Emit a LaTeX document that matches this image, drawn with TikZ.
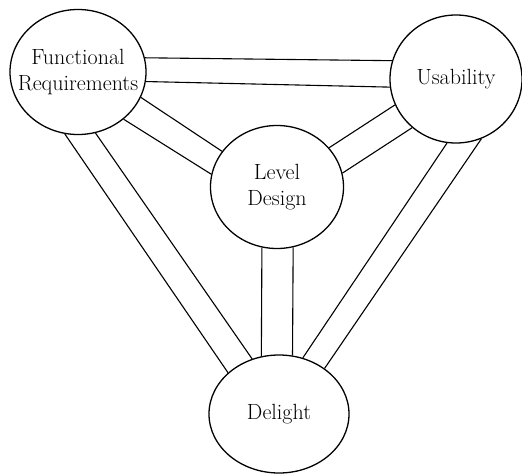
\documentclass[tikz,border=0pt]{standalone}
\usepackage{fontspec}
\usepackage{tikz}
\usetikzlibrary{shapes.geometric}

\begin{document}
\begin{tikzpicture}[x=1pt,y=-1pt]
		\tikzstyle{aspect}=[draw,shape=ellipse,line width=1.3pt,inner sep=-40pt,align=center,font=\fontsize{22}{26}\selectfont]
		\tikzstyle{link}=[line width=1.1pt]
		
		\useasboundingbox (0,0) rectangle (522,474);
		
		\node[aspect,minimum width=136pt,minimum height=125pt](fr) at (78,72){Functional\\Requirements};
		\node[aspect,minimum width=132pt,minimum height=128pt](us) at (456,79){Usability};
		\node[aspect,minimum width=133pt,minimum height=123pt](ld) at (277,187){Level\\Design};
		\node[aspect,minimum width=140pt,minimum height=118pt](dl) at (279,414){Delight};
		
		\draw[link] (fr.12) -- (us.164);
		\draw[link] (fr.-8) -- (us.-173);
		
		\draw[link] (fr.-22) -- (ld.147);
		\draw[link] (fr.-46) -- (ld.169);
		
		\draw[link] (ld.37) -- (us.-157);
		\draw[link] (ld.12) -- (us.-132);
		
		\draw[link] (ld.-104) -- (dl.107);
		\draw[link] (ld.-75) -- (dl.77);
		
		\draw[link] (fr.-102) -- (dl.141);
		\draw[link] (fr.-74) -- (dl.116);
		
		\draw[link] (us.-98) -- (dl.67);
		\draw[link] (us.-67) -- (dl.45);
\end{tikzpicture}
\end{document}
